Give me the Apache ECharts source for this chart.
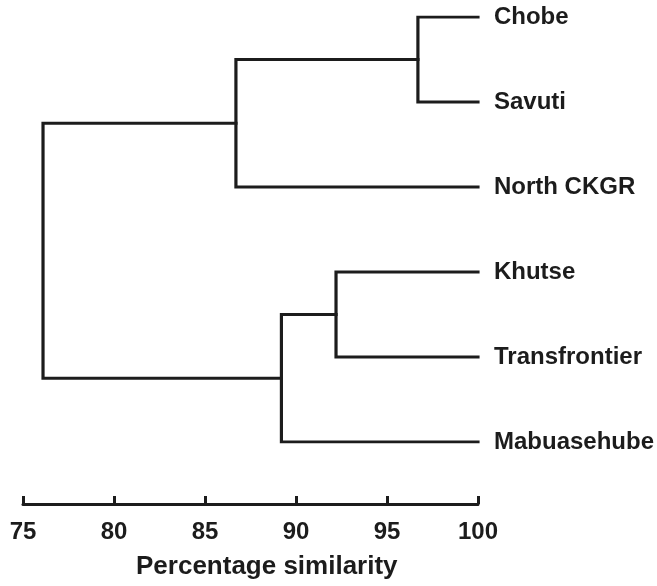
<!DOCTYPE html>
<html>
<head>
<meta charset="utf-8">
<script src="https://cdn.jsdelivr.net/npm/echarts@6/dist/echarts.min.js"></script>
<style>
  html, body { margin: 0; padding: 0; background: #ffffff; }
  #chart { width: 657px; height: 586px; }
</style>
</head>
<body>
<div id="chart"></div>
<script>
// Leaves (top to bottom)
var leaves = ['Chobe', 'Savuti', 'North CKGR', 'Khutse', 'Transfrontier', 'Mabuasehube'];
// Merges: [childA, childB, similarity]; nodes 0..5 are leaves, new nodes numbered from 6
var mergeA = [0, 3, 7, 6, 9];
var mergeB = [1, 4, 5, 2, 8];
var mergeSim = [96.7, 92.2, 89.2, 86.7, 76.1];
// Axis ticks
var xTicks = [75, 80, 85, 90, 95, 100];
var axisTitle = 'Percentage similarity';

var FONT = 'Liberation Sans, Arial, sans-serif';
var INK = '#1c1c1c';

// Build node positions from the merge table
var nodeX = [], nodeY = [];
for (var i = 0; i < leaves.length; i++) { nodeX.push(xTicks[xTicks.length - 1]); nodeY.push(i); }
var series = [];
for (var m = 0; m < mergeSim.length; m++) {
  var a = mergeA[m], b = mergeB[m], h = mergeSim[m];
  series.push({
    type: 'line',
    data: [[nodeX[a], nodeY[a]], [h, nodeY[a]], [h, nodeY[b]], [nodeX[b], nodeY[b]]],
    symbol: 'none',
    lineStyle: { color: INK, width: 3.2, join: 'miter', cap: 'square' },
    silent: true,
    animation: false
  });
  nodeX.push(h);
  nodeY.push((nodeY[a] + nodeY[b]) / 2);
}

var chart = echarts.init(document.getElementById('chart'), null, { renderer: 'canvas' });
chart.setOption({
  backgroundColor: '#ffffff',
  animation: false,
  title: {
    text: axisTitle,
    left: 131,
    top: 549,
    textStyle: { fontFamily: FONT, fontWeight: 'bold', fontSize: 26, color: INK }
  },
  grid: { left: 23, right: 176, top: 17, bottom: 144, containLabel: false },
  xAxis: {
    type: 'value',
    min: xTicks[0],
    max: xTicks[xTicks.length - 1],
    interval: 5,
    position: 'bottom',
    offset: 62,
    axisLine: { show: true, onZero: false, lineStyle: { color: INK, width: 3 } },
    axisTick: { show: true, inside: true, length: 8, lineStyle: { color: INK, width: 3 } },
    axisLabel: { show: true, margin: 16, fontFamily: FONT, fontWeight: 'bold', fontSize: 24, color: INK },
    splitLine: { show: false }
  },
  yAxis: {
    type: 'value',
    inverse: true,
    min: 0,
    max: leaves.length - 1,
    interval: 1,
    position: 'right',
    axisLine: { show: false },
    axisTick: { show: false },
    splitLine: { show: false },
    axisLabel: {
      show: true,
      margin: 16,
      fontFamily: FONT, fontWeight: 'bold', fontSize: 24, color: INK,
      formatter: function (v) { return leaves[v] !== undefined ? leaves[v] : ''; }
    }
  },
  series: series
});
</script>
</body>
</html>
